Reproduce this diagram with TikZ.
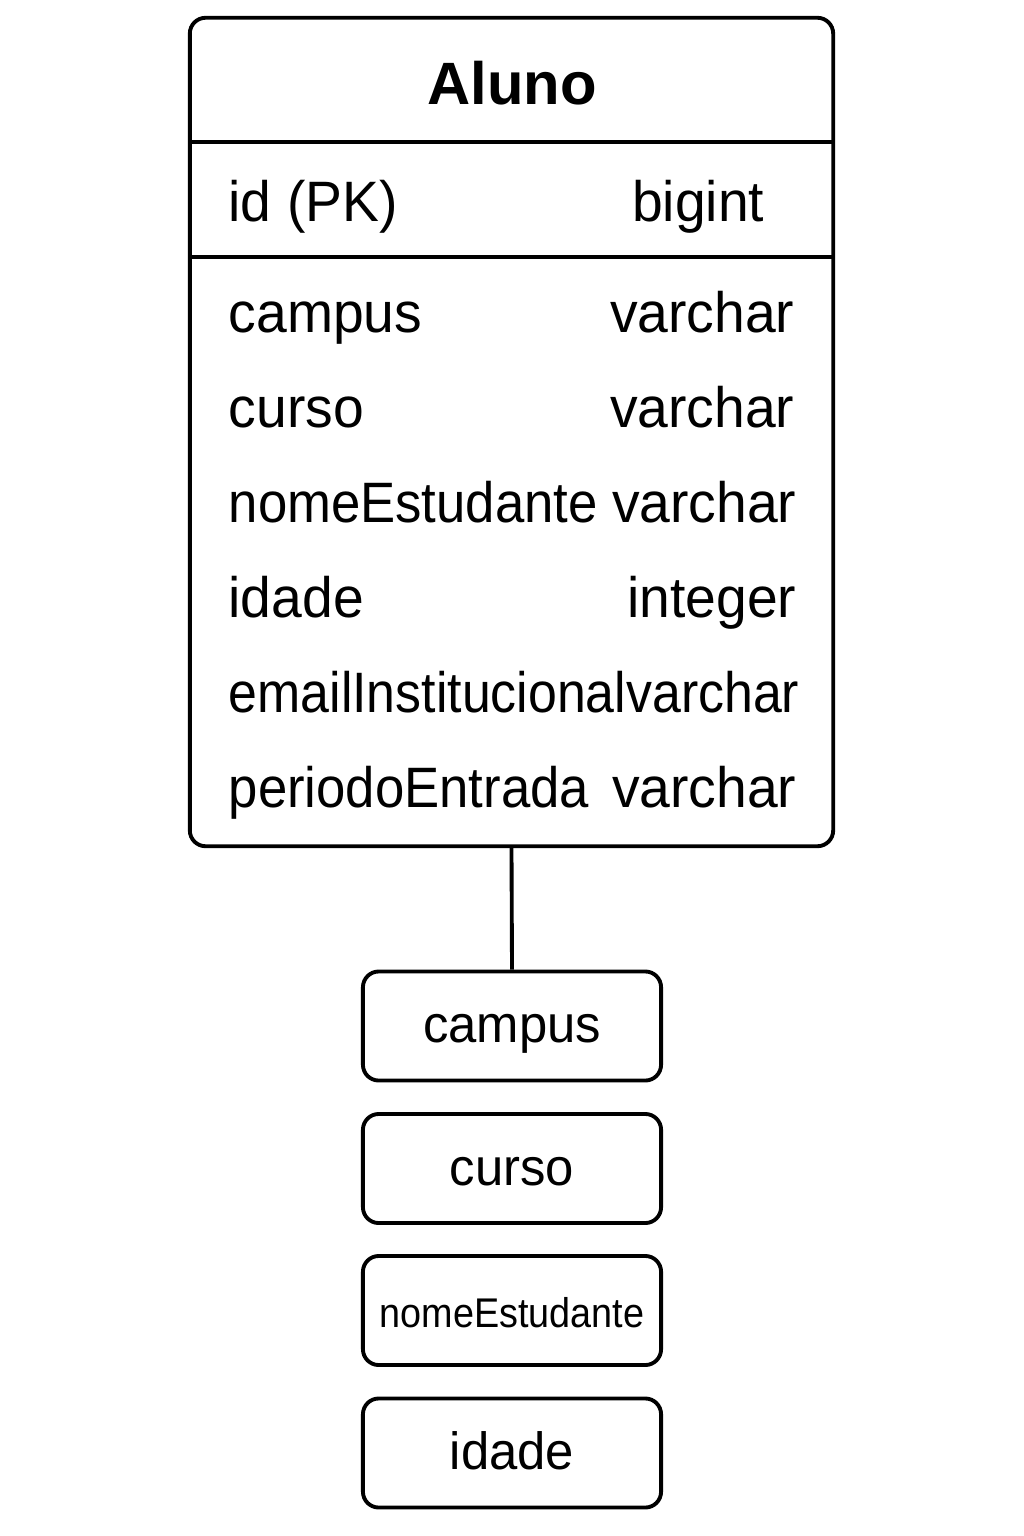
\documentclass[tikz,border=0pt]{standalone}
\usepackage{fontspec}
\setmainfont{Liberation Sans}
\newfontfamily\rowfont[FakeStretch=0.97]{Liberation Sans}
\newfontfamily\longfont[FakeStretch=0.925]{Liberation Sans}
\newfontfamily\squeezefont[FakeStretch=0.91]{Liberation Sans}
\usepackage{tikz}

\begin{document}
\begin{tikzpicture}[x=0.01cm, y=-0.01cm,
    line/.style={line width=1.1pt},
    tablebox/.style={draw, line width=1.1pt, rounded corners=4.5pt, inner sep=0pt,
        minimum width=6.43cm, minimum height=8.28cm},
    fieldbox/.style={draw, line width=1.1pt, rounded corners=4.5pt, inner sep=0pt,
        minimum width=2.98cm, minimum height=1.09cm,
        text height=0.95em, text depth=0em,
        font=\rowfont\fontsize{14.9}{17}\selectfont},
    colname/.style={anchor=base west, inner sep=0pt, font=\rowfont\fontsize{16.2}{19}\selectfont},
    coltype/.style={anchor=base east, inner sep=0pt, font=\rowfont\fontsize{16.2}{19}\selectfont}]
    \useasboundingbox (0,0) rectangle (1024,1536);

    % Table
    \node[tablebox] (aluno) at (511.5,432) {};
    \node[anchor=base, inner sep=0pt, font=\bfseries\fontsize{17}{20}\selectfont] (title) at (512,104) {Aluno};
    \draw[line] (190,142) -- (833,142);
    \draw[line] (190,257) -- (833,257);

    % Primary key
    \node[colname] (idname) at (228,221) {id (PK)};
    \node[coltype] (idtype) at (765,221) {bigint};

    % Columns
    \node[colname] (campusname) at (228,332) {campus};
    \node[coltype] (campustype) at (795,332) {varchar};
    \node[colname] (cursoname) at (228,427) {curso};
    \node[coltype] (cursotype) at (795,427) {varchar};
    \node[colname, font=\longfont\fontsize{16.2}{19}\selectfont] (nomename) at (228,522) {nomeEstudante};
    \node[coltype] (nometype) at (797,522) {varchar};
    \node[colname] (idadename) at (228,617) {idade};
    \node[coltype] (idadetype) at (797,617) {integer};
    \node[colname, font=\squeezefont\fontsize{16.2}{19}\selectfont] (emailname) at (228,712) {emailInstitucionalvarchar};
    \node[colname, font=\longfont\fontsize{16.2}{19}\selectfont] (periodoname) at (228,807) {periodoEntrada};
    \node[coltype] (periodotype) at (797,807) {varchar};

    % Field boxes
    \node[fieldbox] (campus) at (512,1026) {campus};
    \node[fieldbox] (curso) at (512,1168.5) {curso};
    \node[fieldbox, font=\squeezefont\fontsize{11.8}{14}\selectfont] (nome) at (512,1310.5) {nomeEstudante};
    \node[fieldbox] (idade) at (512,1453) {idade};

    \draw[line] (aluno.south) -- (campus.north);
\end{tikzpicture}
\end{document}
